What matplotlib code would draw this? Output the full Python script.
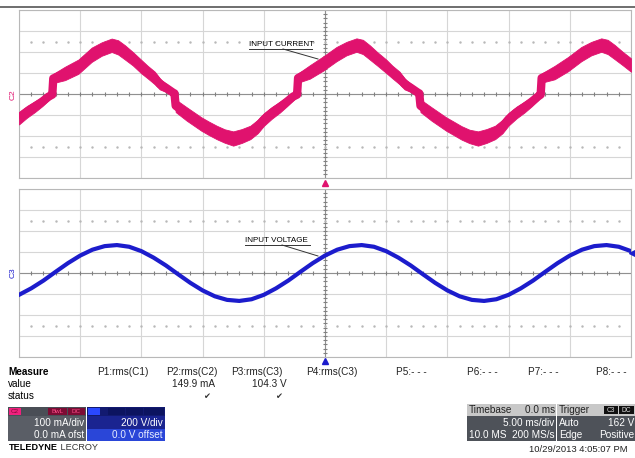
import numpy as np
import matplotlib
matplotlib.use("Agg")
from matplotlib import pyplot as plt
from matplotlib.patches import Rectangle

plt.rcParams['font.family'] = ['Liberation Sans', 'DejaVu Sans']

# input current, divisions (100 mA/div) vs time in ms, band centre and half width
cur_t = [0, 0.65, 1.3, 1.9, 2.4, 2.72, 2.8, 3.76, 4.85, 5.94, 6.75, 7.57, 8.1, 8.66, 9.3, 10.0, 10.5, 11.1, 11.5, 12.0, 12.6, 12.7, 12.8, 13.7, 14.9, 15.5, 16.15, 16.8, 17.5, 18.2, 18.9, 19.5,
         20, 20.65, 21.3, 21.9, 22.4, 22.72, 22.8, 23.76, 24.85, 25.94, 26.75, 27.57, 28.1, 28.66, 29.3, 30.0, 30.5, 31.1, 31.5, 32.0, 32.6, 32.7, 32.8, 33.7, 34.9, 35.5, 36.15, 36.8, 37.5, 38.2, 38.9, 39.5,
         40, 40.65, 41.3, 41.9, 42.4, 42.62, 42.7, 43.76, 44.85, 45.94, 46.75, 47.57, 48.1, 48.66, 49.3, 50.0]
cur_v = [-1.15, -0.85, -0.60, -0.36, -0.13, -0.03, 0.74, 0.98, 1.30, 1.87, 2.14, 2.32, 2.22, 1.98, 1.68, 1.30, 1.05, 0.76, 0.48, 0.30, 0.06, 0.03, -0.56, -0.95, -1.43, -1.63, -1.83, -2.00, -2.12, -2.00, -1.83, -1.55,
         -1.22, -0.90, -0.63, -0.36, -0.12, -0.03, 0.76, 1.05, 1.45, 1.90, 2.16, 2.33, 2.24, 1.98, 1.66, 1.32, 1.05, 0.76, 0.48, 0.30, 0.06, 0.03, -0.56, -0.95, -1.43, -1.63, -1.85, -2.02, -2.12, -2.00, -1.83, -1.55,
         -1.20, -0.88, -0.62, -0.36, -0.12, -0.03, 0.76, 1.02, 1.42, 1.90, 2.16, 2.33, 2.24, 2.00, 1.70, 1.38]
cur_hw = [0.30, 0.28, 0.26, 0.22, 0.18, 0.12, 0.22, 0.32, 0.34, 0.34, 0.32, 0.32, 0.34, 0.34, 0.32, 0.32, 0.30, 0.30, 0.26, 0.20, 0.14, 0.12, 0.30, 0.32, 0.32, 0.32, 0.32, 0.32, 0.34, 0.33, 0.32, 0.32,
          0.30, 0.28, 0.26, 0.22, 0.18, 0.12, 0.22, 0.32, 0.34, 0.34, 0.32, 0.32, 0.34, 0.34, 0.32, 0.32, 0.30, 0.30, 0.26, 0.20, 0.14, 0.12, 0.30, 0.32, 0.32, 0.32, 0.32, 0.32, 0.34, 0.33, 0.32, 0.32,
          0.30, 0.28, 0.26, 0.22, 0.18, 0.12, 0.22, 0.32, 0.34, 0.34, 0.32, 0.32, 0.34, 0.34, 0.32, 0.32]

# input voltage, divisions (200 V/div), one sample per ms
volt_t = list(range(0, 51))
volt_v = [-1.04, -0.73, -0.36, 0.06, 0.47, 0.83, 1.11, 1.28, 1.33, 1.25, 1.04, 0.73, 0.36, -0.06, -0.47, -0.83, -1.11, -1.28, -1.33, -1.25,
          -1.04, -0.73, -0.36, 0.06, 0.47, 0.83, 1.11, 1.28, 1.33, 1.25, 1.04, 0.73, 0.36, -0.06, -0.47, -0.83, -1.11, -1.28, -1.33, -1.25,
          -1.04, -0.73, -0.36, 0.06, 0.47, 0.83, 1.11, 1.28, 1.33, 1.25, 1.04]

measure_names = ["P1:rms(C1)", "P2:rms(C2)", "P3:rms(C3)", "P4:rms(C3)", "P5:- - -", "P6:- - -", "P7:- - -", "P8:- - -"]
measure_vals = ["", "149.9 mA", "104.3 V", "", "", "", "", ""]

W, H = 635, 458
fig = plt.figure(figsize=(W / 100, H / 100), dpi=100)

def grid_axes(top):
    ax = fig.add_axes([19 / W, 1 - (top + 168) / H, 612 / W, 168 / H])
    ax.set_xlim(0, 50)
    ax.set_ylim(-4, 4)
    ax.set_xticks(np.arange(0, 51, 5))
    ax.set_yticks(np.arange(-4, 5, 1))
    ax.set_axisbelow(True)
    ax.grid(True, color='#d6d6d6', lw=0.8)
    ax.tick_params(length=0, labelbottom=False, labelleft=False)
    for s in ax.spines.values():
        s.set_color('#b8b8b8')
        s.set_linewidth(0.8)
    ax.axhline(0, color='#909090', lw=0.8, zorder=1)
    ax.axvline(25, color='#909090', lw=0.8, zorder=1)
    # small ticks on centre lines and dotted rows
    mt = np.arange(1, 50, 1)
    ax.plot(mt, np.zeros_like(mt), ls='none', marker='|', ms=2.5, color='#808080', mew=0.8, zorder=1)
    for yy in (2.5, -2.5):
        ax.plot(mt, np.full_like(mt, yy, dtype=float), ls='none', marker='.', ms=1.5, color='#b8b8b8', zorder=1)
    my = np.arange(-3.8, 3.81, 0.2)
    ax.plot(np.full_like(my, 25), my, ls='none', marker='_', ms=2.5, color='#808080', mew=0.8, zorder=1)
    return ax

ax1 = grid_axes(10)
cv = np.array(cur_v)
hw = np.array(cur_hw)
ax1.fill_between(cur_t, cv - hw, cv + hw, color='#e0126e', lw=0.6, edgecolor='#e0126e', zorder=3)
ax1.plot(cur_t, cur_v, color='#e0126e', lw=6, solid_joinstyle='round', solid_capstyle='butt', zorder=3)

ax2 = grid_axes(189)
ax2.plot(volt_t, volt_v, color='#1c1ccc', lw=3.0, solid_joinstyle='round', zorder=3)

# overlay in pixel coordinates
ov = fig.add_axes([0, 0, 1, 1])
ov.set_xlim(0, W)
ov.set_ylim(H, 0)
ov.axis('off')
ov.patch.set_visible(False)

ov.plot([0, W], [7, 7], color='#555555', lw=1.2)

# annotations
ov.text(249, 44, "INPUT CURRENT", fontsize=5.8, va='center', ha='left')
ov.plot([249, 312], [49, 49], color='#333333', lw=0.7)
ov.plot([283, 318], [49, 59], color='#333333', lw=0.7)
ov.text(245, 240, "INPUT VOLTAGE", fontsize=5.8, va='center', ha='left')
ov.plot([245, 310], [245, 245], color='#333333', lw=0.7)
ov.plot([282, 318], [245, 256], color='#333333', lw=0.7)

ov.text(13, 95, "C2", color='#e0126e', fontsize=6, rotation=90, ha='center', va='center')
ov.text(13, 273, "C3", color='#1c1ccc', fontsize=6, rotation=90, ha='center', va='center')

ov.plot([325], [183], marker='^', color='#e0126e', ms=4)
ov.plot([325], [361], marker='^', color='#1c1ccc', ms=4)
ov.plot([632], [253], marker='<', color='#1c1ccc', ms=4)

# measure table
fs = 7.2
ov.text(8, 372, "Measure", fontsize=fs, fontweight='bold', va='center')
ov.text(8, 384, "value", fontsize=fs, va='center')
ov.text(8, 396, "status", fontsize=fs, va='center')
col_x = [97, 166, 231, 306, 396, 467, 528, 596]
for x, name in zip(col_x, measure_names):
    ov.text(x, 372, name, fontsize=fs, va='center', color='#222222')
val_right = [147, 215, 287, 356]
for x, v in zip(val_right, measure_vals[:4]):
    if v:
        ov.text(x, 384, v, fontsize=fs, va='center', ha='right', color='#222222')
        ov.text(x - 8, 396, "\u2714", fontsize=6, va='center', ha='center', color='#333333', family='DejaVu Sans')

def box(x, y, w, h, c):
    ov.add_patch(Rectangle((x, y), w, h, facecolor=c, edgecolor='none'))

# C2 channel box
box(8, 407, 78, 34, '#5a5e66')
box(8, 407, 78, 9, '#4a4e56')
box(9, 408, 12, 7, '#f0207e')
box(48, 408, 19, 7, '#7c0c34')
box(68, 408, 17, 7, '#7c0c34')
ov.text(57.5, 411.5, "BwL", fontsize=4.5, color='#ff4d8a', ha='center', va='center')
ov.text(76.5, 411.5, "DC", fontsize=4.5, color='#ff4d8a', ha='center', va='center')
ov.text(15, 411.5, "C2", fontsize=4.5, color='#7c0c34', ha='center', va='center')
ov.text(84, 423, "100 mA/div", fontsize=fs, color='white', ha='right', va='center')
ov.text(84, 435, "0.0 mA ofst", fontsize=fs, color='white', ha='right', va='center')

# C3 channel box
box(87, 407, 78, 34, '#1a2490')
box(87, 407, 78, 9, '#121a70')
box(88, 408, 12, 7, '#2a48ff')
box(108, 408, 17, 7, '#0c1460')
box(126, 408, 17, 7, '#0c1460')
box(144, 408, 20, 7, '#0c1460')
box(87, 429, 78, 12, '#2a46d8')
ov.text(163, 423, "200 V/div", fontsize=fs, color='white', ha='right', va='center')
ov.text(163, 435, "0.0 V offset", fontsize=fs, color='#e8eeff', ha='right', va='center')

t1 = ov.text(9, 448, "TELEDYNE", fontsize=6.6, fontweight='bold', va='center')
ov.annotate(" LECROY", xy=(1, 0.5), xycoords=t1, fontsize=6.6, va='center', ha='left', color='#333333')

# timebase box
box(467, 404, 89, 37, '#4e5259')
box(467, 404, 89, 12, '#c8c8c8')
ov.text(469, 410, "Timebase", fontsize=fs, color='#222222', va='center')
ov.text(555, 410, "0.0 ms", fontsize=fs, color='#222222', va='center', ha='right')
ov.text(554, 423, "5.00 ms/div", fontsize=fs, color='white', va='center', ha='right')
ov.text(469, 435, "10.0 MS", fontsize=fs, color='white', va='center')
ov.text(554, 435, "200 MS/s", fontsize=fs, color='white', va='center', ha='right')

# trigger box
box(557, 404, 78, 37, '#4e5259')
box(557, 404, 78, 12, '#c8c8c8')
ov.text(559, 410, "Trigger", fontsize=fs, color='#222222', va='center')
box(604, 406, 14, 8, '#111111')
box(619, 406, 15, 8, '#111111')
ov.text(611, 410, "C3", fontsize=4.8, color='#dddddd', va='center', ha='center')
ov.text(626.5, 410, "DC", fontsize=4.8, color='#dddddd', va='center', ha='center')
ov.text(559, 423, "Auto", fontsize=fs, color='white', va='center')
ov.text(634, 423, "162 V", fontsize=fs, color='white', va='center', ha='right')
ov.text(559, 435, "Edge", fontsize=fs, color='white', va='center')
ov.text(634, 435, "Positive", fontsize=fs, color='white', va='center', ha='right')

ov.text(628, 450, "10/29/2013 4:05:07 PM", fontsize=6.8, color='#222222', va='center', ha='right')

fig.savefig("out.png", dpi=100)
